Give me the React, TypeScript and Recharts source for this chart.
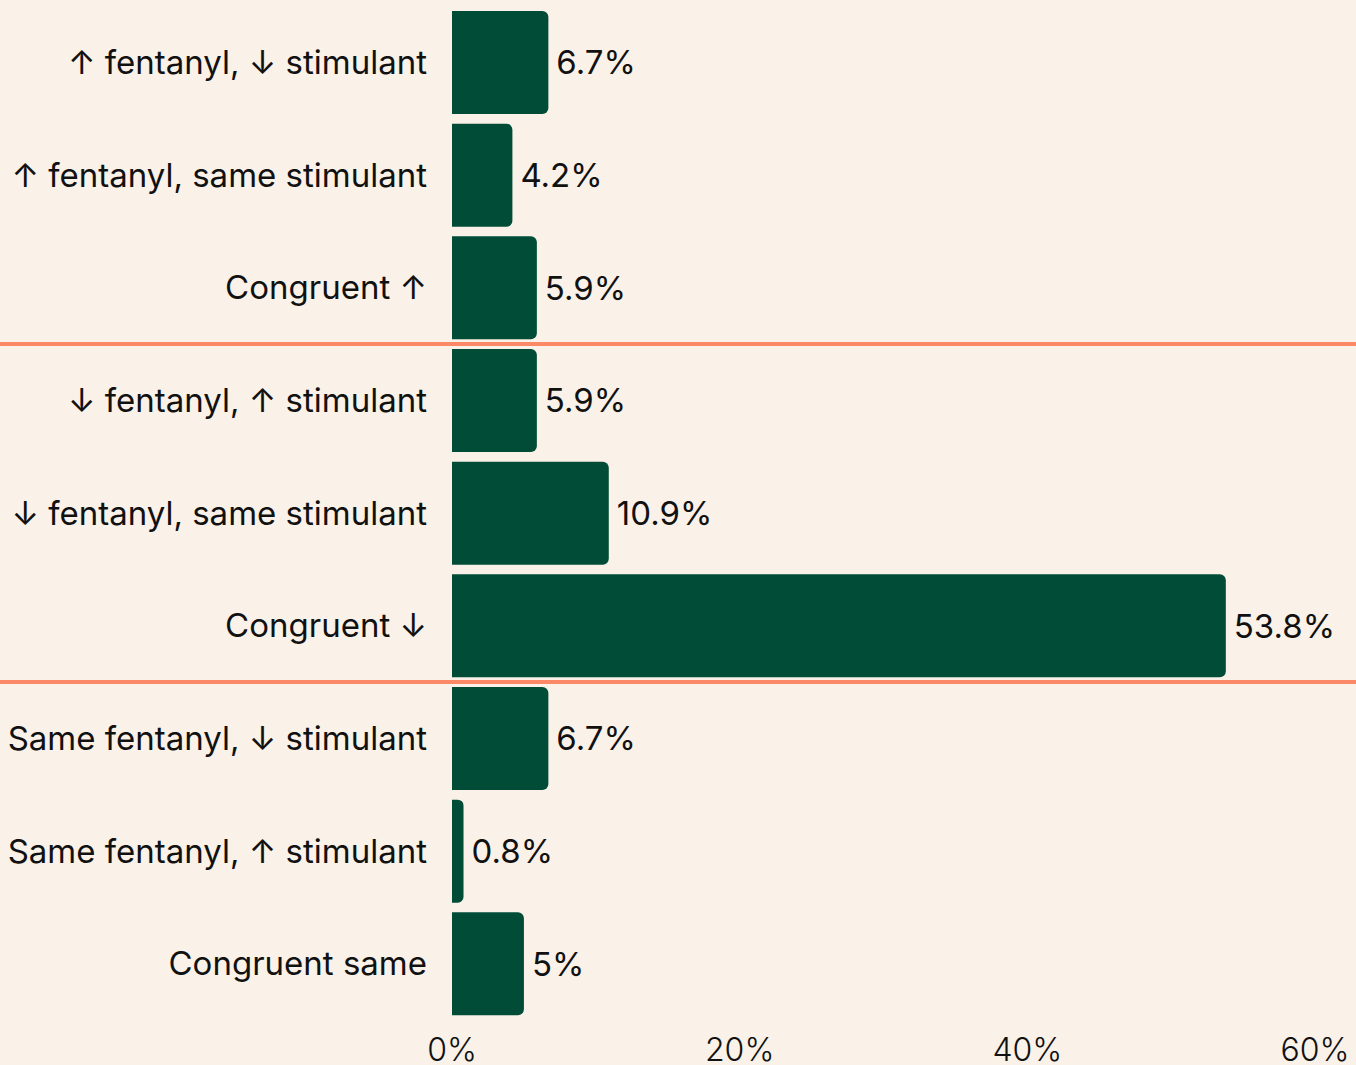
import React from 'react';
import { BarChart, Bar, XAxis, YAxis, LabelList } from 'recharts';

const categories = [
  '↑ fentanyl, ↓ stimulant',
  '↑ fentanyl, same stimulant',
  'Congruent ↑',
  '↓ fentanyl, ↑ stimulant',
  '↓ fentanyl, same stimulant',
  'Congruent ↓',
  'Same fentanyl, ↓ stimulant',
  'Same fentanyl, ↑ stimulant',
  'Congruent same',
];
const shares = [6.7, 4.2, 5.9, 5.9, 10.9, 53.8, 6.7, 0.8, 5];
const xTicks = [0, 20, 40, 60];
// groups end after these row counts
const groupBreaks = [3, 6];

const data = categories.map((name, i) => ({ name, value: shares[i] }));

const W = 1356;
const H = 1065;
const margin = { top: 6, right: 41, bottom: 0, left: 0 };
const Y_AXIS_W = 452;
const X_AXIS_H = 45;
const plotH = H - margin.top - margin.bottom - X_AXIS_H;

const FONT = 'Inter, "DejaVu Sans", sans-serif';

export default function App() {
  return (
    <div style={{ position: 'absolute', left: 0, top: 0, width: W, height: H, background: '#faf1e8', overflow: 'hidden' }}>
      <BarChart width={W} height={H} data={data} layout="vertical" margin={margin} barSize={103}>
        <XAxis
          type="number"
          domain={[0, 60]}
          ticks={xTicks}
          height={X_AXIS_H}
          axisLine={false}
          tickLine={false}
          tickMargin={12}
          tickFormatter={(v: number) => `${v}%`}
          tick={{ fill: '#111', fontSize: 32, fontFamily: FONT, fontWeight: 300 }}
        />
        <YAxis
          type="category"
          dataKey="name"
          width={Y_AXIS_W}
          axisLine={false}
          tickLine={false}
          tickMargin={19}
          interval={0}
          tick={{ fill: '#111', fontSize: 33, fontFamily: FONT }}
        />
        <Bar dataKey="value" fill="#004c37" radius={[0, 6, 6, 0]} isAnimationActive={false}>
          <LabelList
            dataKey="value"
            position="right"
            offset={8}
            formatter={(v: number) => `${v}%`}
            style={{ fill: '#111', fontSize: 33, fontFamily: FONT }}
          />
        </Bar>
      </BarChart>
      {groupBreaks.map((k) => (
        <div
          key={k}
          style={{
            position: 'absolute',
            left: 0,
            width: W,
            height: 3.5,
            background: '#fb8866',
            top: margin.top + (plotH * k) / categories.length - 1.75,
            pointerEvents: 'none',
          }}
        />
      ))}
    </div>
  );
}
